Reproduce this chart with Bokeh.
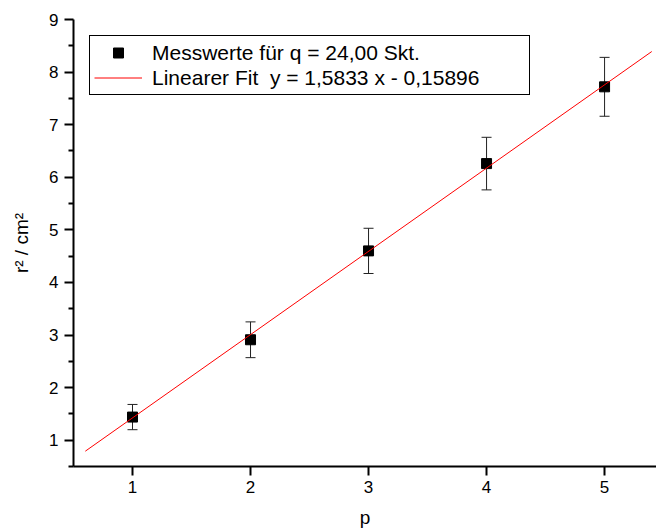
from bokeh.plotting import figure
from bokeh.models import (Range1d, Whisker, ColumnDataSource, Legend, LegendItem,
                          FixedTicker, TeeHead)
from bokeh.embed import file_html
from bokeh.resources import INLINE

# ---- data ----
p_values = [1, 2, 3, 4, 5]
r2_values = [1.44, 2.91, 4.60, 6.26, 7.72]
r2_errors = [0.24, 0.34, 0.43, 0.50, 0.56]
fit_x = [0.6, 5.4]
fit_y = [0.791, 8.391]          # y = 1,5833 x - 0,15896
x_ticks = [1, 2, 3, 4, 5]
y_ticks = [1, 2, 3, 4, 5, 6, 7, 8, 9]
y_minor_ticks = [0.5, 1.5, 2.5, 3.5, 4.5, 5.5, 6.5, 7.5, 8.5]
label_points = "Messwerte für q = 24,00 Skt."
label_fit = "Linearer Fit\u00a0 y = 1,5833 x - 0,15896"
x_label = "p"
y_label = "r² / cm²"

FONT = "Liberation Sans"

src = ColumnDataSource(dict(
    x=p_values,
    y=r2_values,
    upper=[v + e for v, e in zip(r2_values, r2_errors)],
    lower=[v - e for v, e in zip(r2_values, r2_errors)],
))

p = figure(width=656, height=532, x_range=Range1d(0.5, 5.44), y_range=Range1d(0.5, 9),
           output_backend="svg", toolbar_location=None,
           min_border_left=73, min_border_top=19, min_border_right=0,
           min_border_bottom=66)
p.background_fill_color = "white"
p.border_fill_color = "white"
p.outline_line_color = None
p.xgrid.grid_line_color = None
p.ygrid.grid_line_color = None

whisk = Whisker(source=src, base="x", upper="upper", lower="lower",
                line_color="#222222", line_width=1,
                upper_head=TeeHead(size=10, line_color="#222222", line_width=1),
                lower_head=TeeHead(size=10, line_color="#222222", line_width=1))
p.add_layout(whisk)

pts = p.scatter("x", "y", source=src, marker="square", size=10,
                fill_color="black", line_color="black")
fit = p.line(fit_x, fit_y, line_color="red", line_width=1)

# axes
for ax in (p.xaxis[0], p.yaxis[0]):
    ax.axis_line_width = 2
    ax.axis_line_color = "black"
    ax.major_tick_line_width = 2
    ax.minor_tick_line_width = 2
    ax.major_tick_in = 0
    ax.minor_tick_in = 0
    ax.major_tick_out = 9
    ax.major_label_text_font = FONT
    ax.major_label_text_font_size = "17px"
    ax.major_label_text_color = "black"
    ax.axis_label_text_font = FONT
    ax.axis_label_text_font_size = "19px"
    ax.axis_label_text_font_style = "normal"
    ax.axis_label_text_color = "black"

p.xaxis[0].ticker = FixedTicker(ticks=x_ticks)
p.xaxis[0].minor_tick_out = 0
p.xaxis[0].major_label_standoff = 5
p.xaxis[0].axis_label = x_label
p.xaxis[0].axis_label_standoff = 11

p.yaxis[0].ticker = FixedTicker(ticks=y_ticks, minor_ticks=y_minor_ticks)
p.yaxis[0].minor_tick_out = 5
p.yaxis[0].major_label_standoff = 6
p.yaxis[0].axis_label = y_label
p.yaxis[0].axis_label_standoff = 14

legend = Legend(items=[LegendItem(label=label_points, renderers=[pts]),
                       LegendItem(label=label_fit, renderers=[fit])],
                location="top_left", margin=16, padding=4, spacing=0,
                glyph_width=48, glyph_height=25, label_height=25,
                label_standoff=10, label_width=373,
                label_text_font=FONT, label_text_font_size="21px",
                label_text_color="black",
                border_line_color="black", border_line_width=1,
                border_line_alpha=1,
                background_fill_color="white", background_fill_alpha=1)
p.add_layout(legend)

open("out.html", "w").write(file_html(p, INLINE))
